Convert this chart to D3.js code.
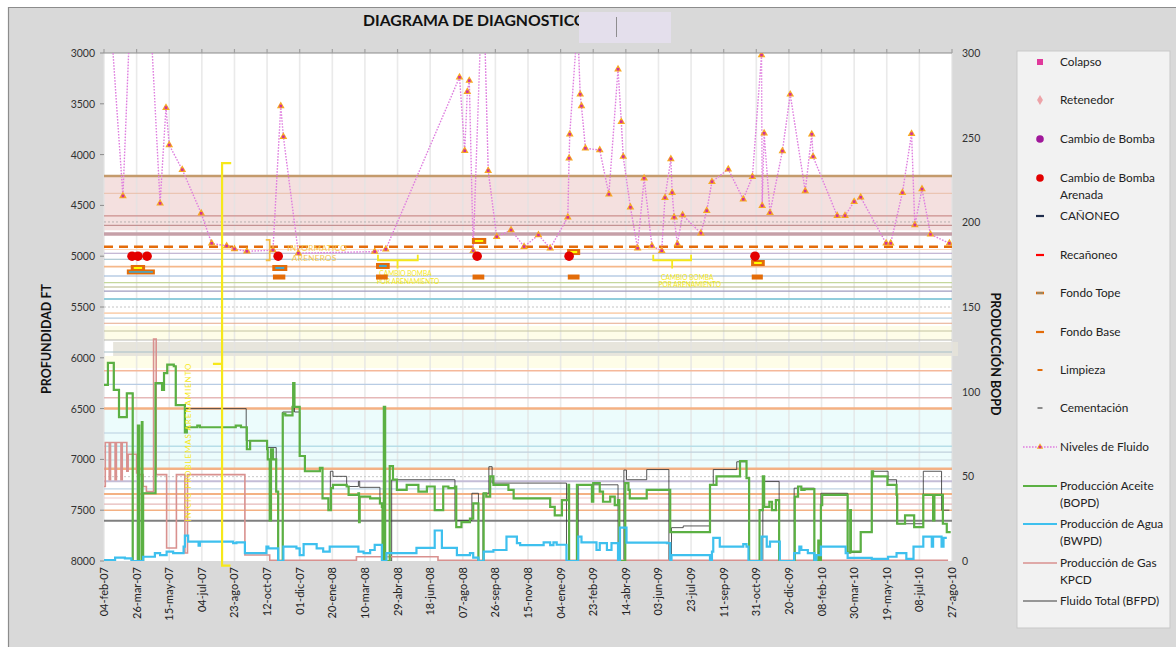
<!DOCTYPE html>
<html>
<head>
<meta charset="utf-8">
<script src="https://cdn.jsdelivr.net/npm/d3@7"></script>
<style>
  body { margin: 0; background: #ffffff; }
  svg { display: block; font-family: Lato, "Open Sans", "Liberation Sans", sans-serif; }
</style>
</head>
<body>
<svg id="chart" width="1176" height="647"></svg>
<script>
// ---------- data ----------
const START = new Date(2007, 1, 4);          // first day of the record
const SPAN_DAYS = 1300;
const tickStepDays = 50;
const tickLabels = ["04-feb-07","26-mar-07","15-may-07","04-jul-07","23-ago-07","12-oct-07","01-dic-07",
  "20-ene-08","10-mar-08","29-abr-08","18-jun-08","07-ago-08","26-sep-08","15-nov-08","04-ene-09",
  "23-feb-09","14-abr-09","03-jun-09","23-jul-09","11-sep-09","31-oct-09","20-dic-09","08-feb-10",
  "30-mar-10","19-may-10","08-jul-10","27-ago-10"];
const depthTicks = [3000, 3500, 4000, 4500, 5000, 5500, 6000, 6500, 7000, 7500, 8000];
const prodTicks = [0, 50, 100, 150, 200, 250, 300];

// fluid level surveys: [day since start, depth ft]
const fluidLevels = [[3,2000],[29,4407],[44,2000],[66,2000],[86,4480],[95,3538],[100,3906],[120,4149],
  [149,4578],[165,4873],[188,4900],[200,4929],[219,4952],[259,4940],[271,3522],[275,3824],[298,4971],
  [415,4955],[432,4932],[545,3239],[553,3962],[557,3381],[560,3272],[566,4946],[581,2130],[589,4158],
  [602,4808],[624,4742],[644,4906],[666,4791],[684,4922],[711,4617],[713,4036],[714,3800],[726,2700],
  [730,3407],[732,3522],[738,3938],[760,3955],[774,4391],[788,3160],[793,3676],[796,4020],[807,4519],
  [818,4922],[828,4233],[840,4900],[855,4946],[860,4424],[869,4043],[871,4375],[874,4617],[879,4880],
  [887,4594],[915,4774],[924,4552],[932,4267],[957,4145],[980,4440],[994,4217],[1008,3020],[1009,4503],
  [1012,3790],[1021,4572],[1040,3965],[1052,3407],[1075,4358],[1085,3800],[1087,4020],[1124,4601],
  [1136,4601],[1150,4463],[1160,4420],[1199,4873],[1206,4873],[1224,4375],[1238,3794],[1243,4693],
  [1254,4339],[1267,4785],[1296,4873]];

// daily production, stepwise: [day, rate]
const oilBopd = [[0,104],[6,117],[15,101],[23,85],[35,99],[44,0],[52,80],[54,0],[58,82],[59,0],[60,40],
  [79,105],[89,101],[92,111],[97,116],[107,115],[110,92],[124,76],[127,79],[143,80],[147,79],[202,80],
  [210,79],[219,66],[224,71],[250,66],[251,60],[254,24],[256,66],[259,60],[264,41],[267,0],[274,87],
  [278,86],[289,91],[290,105],[292,91],[300,62],[308,53],[331,55],[335,37],[344,30],[348,43],[351,45],
  [372,44],[375,39],[390,40],[391,23],[392,38],[408,37],[423,34],[426,32],[427,0],[429,91],[431,0],
  [438,56],[443,48],[449,42],[464,45],[482,41],[495,44],[507,30],[520,44],[528,43],[538,44],[540,20],
  [548,23],[561,25],[566,34],[574,0],[582,40],[586,38],[592,50],[597,45],[620,42],[628,37],[684,32],
  [691,27],[702,36],[712,45],[713,0],[725,45],[748,35],[750,46],[760,41],[765,35],[776,38],[783,33],
  [788,36],[790,0],[799,46],[804,42],[806,37],[832,42],[868,17],[929,45],[939,50],[975,59],[985,49],
  [989,0],[1005,30],[1010,50],[1012,32],[1020,35],[1024,30],[1030,36],[1035,0],[1059,38],[1064,44],
  [1069,42],[1074,42.5],[1089,0],[1095,12],[1097,0],[1099,33],[1101,39],[1140,5],[1144,30],[1145,5.5],
  [1160,17],[1177,53],[1179,50],[1201,45],[1215,39],[1216,22],[1228,27],[1242,20],[1256,39],[1271,24],
  [1273,39],[1286,22],[1292,17],[1298,17]];

const waterBwpd = [[0,0.5],[17,2],[32,1.5],[42,0],[60,2.5],[78,4.7],[86,3.5],[96,5.5],[106,4.7],[122,8.5],
  [124,15],[129,11.4],[145,9],[147,11.4],[198,10.5],[203,11],[216,4.7],[249,8.5],[252,7.5],[267,0],
  [275,8.5],[295,7.5],[300,3.5],[306,10],[326,7.5],[336,5.5],[346,8.5],[390,5.5],[398,4.7],[408,6.5],
  [415,9.5],[426,0],[433,4.7],[479,7.7],[507,18],[518,7.7],[541,3.5],[561,4.7],[566,2],[574,0],
  [582,5.5],[597,6.5],[617,14.4],[633,10.6],[638,9.4],[674,11],[684,9.4],[689,11],[694,9.6],[709,0],
  [727,14.4],[732,11],[755,6.5],[760,10.6],[771,6.5],[778,10.6],[788,0],[791,19.7],[801,10.8],
  [863,10.6],[868,0],[870,3.5],[929,0],[932,5.5],[934,13.6],[944,8.5],[980,10],[985,8.5],[988,0],
  [1008,14.4],[1016,8.5],[1021,11.4],[1036,0],[1058,4.7],[1066,8.5],[1069,6.5],[1079,4.7],[1089,0],
  [1092,3.5],[1099,8.5],[1137,4.7],[1140,1.8],[1177,1.2],[1202,2.5],[1215,4.7],[1230,1.2],[1241,8.5],
  [1256,14.4],[1269,8.5],[1271,14.4],[1284,8.5],[1287,13.6],[1292,13.6]];

const gasKpcd = [[0,44],[2,70],[8,48],[10,70],[17,48],[19,70],[26,48],[28,70],[35,53],[37,63],[50,52],
  [53,51],[60,44],[65,41],[76,131],[80,51],[96,7.7],[111,51],[124,4.7],[128,51],[216,3.5],[254,0.4],
  [387,2.5],[512,0.4],[1294,0.4]];

const totalBfpd = [[0,104],[6,117],[15,101],[23,85],[35,99],[44,0],[52,80],[54,0],[58,82],[59,0],[60,40],
  [79,105],[92,111],[97,116],[107,115],[110,92],[124,90],[218,71],[250,67],[264,41],[267,0],[274,88],
  [290,105],[292,88],[300,62],[308,53],[331,55],[335,37],[344,30],[347,53],[351,50],[372,44],[390,47],
  [392,43.5],[423,34],[427,0],[429,91],[431,0],[441,48],[538,24],[564,40],[574,0],[581,40],[590,55.7],
  [595,46],[709,0],[727,45],[788,0],[797,53.7],[801,48],[832,54],[866,0],[870,19.7],[888,20.7],[929,45],
  [934,54],[970,58.6],[985,49],[989,0],[1010,47],[1035,0],[1058,43],[1064,44],[1069,43],[1089,0],
  [1099,40],[1140,5],[1160,17],[1177,53],[1202,48],[1215,22],[1256,53],[1284,30],[1296,30]];

// well events
const sandPumpChanges = [43, 52, 66, 267, 572, 713, 998];      // Cambio de Bomba Arenada, at 5000 ft
const sandPumpDepth = 5000;
const topStart = [41, 258, 417, 564, 710, 992];
const topEnd   = [63, 281, 438, 586, 730, 1013];
const topDepth = [5116, 5116, 5096, 4850, 4959, 5067];
const topKind  = ["limpieza", "fondo", "fondo", "limpieza", "limpieza", "limpieza"];
const baseStart = [35, 259, 417, 565, 711, 993];
const baseEnd   = [78, 278, 435, 583, 729, 1010];
const baseDepth = [5155, 5205, 5205, 5205, 5205, 5205];

// formation bands and reference depths
const bandTop    = [4210, 5687, 5982, 6500];
const bandBottom = [4745, 5825, 6100, 7095];
const wideBand = [5844, 5982];
const refDepths = [4210, 4381, 4604, 4663, 4696, 4781, 4906, 4934, 4971, 5030, 5103, 5195, 5261, 5303,
  5343, 5421, 5500, 5560, 5610, 5660, 5736, 5825, 5943, 6127, 6261, 6393, 6500, 6740, 6870, 6929, 7006,
  7091, 7170, 7215, 7291, 7341, 7380, 7440, 7500, 7603];

// ---------- styles ----------
const bandFill = ["#f4e0df", "#fefde8", "#fefde8", "#ecfcfc"];
const refStyle = [
  ["#c49a6c",2.5],["#e9bfa8",1],["#cc8f8d",1.2],["#b8b0b0",1,"2 2"],["#c49292",1.2],["#c6a0a8",3.5],
  ["#e46c0a",2.5,"9 6"],["#fbd9c0",1],["#b3a2c7",1.2],["#9bbcc9",1.2],["#f5b88a",1.6],["#95b3d7",1.2],
  ["#c4d79b",1.2],["#b5b586",1.2],["#a09cbf",1.2],["#92cddc",2],["#c4c4c4",1,"2 2"],["#fbd4b4",1.6],
  ["#b7cee0",1.2],["#e6a88a",1.2],["#c4c4a0",1.2],["#b8b8b0",1.2],["#a8c0c8",1.2],["#f5b89a",1.6],
  ["#b8cce4",1.2],["#e6b8b7",1.6],["#f4b183",2.5],["#b7cee0",1.2],["#b7dee8",1.6],["#c0d0dc",1.2],
  ["#c8d8e0",1.2],["#f4b183",2.5],["#c8c8c8",1,"2 2"],["#c4bdd7",2],["#c0d4e4",1.2],["#f4b183",2],
  ["#f2c8c8",1.2],["#e6b9b8",1.2],["#f4b183",1.6],["#7f7f7f",2]];

// ---------- layout ----------
const svg = d3.select("#chart");
const M = { left: 104, right: 952, top: 53, bottom: 561 };
const day = d => d3.timeDay.offset(START, d);

const x = d3.scaleTime().domain([START, day(SPAN_DAYS)]).range([M.left, M.right]);
const yDepth = d3.scaleLinear().domain([3000, 8000]).range([M.top, M.bottom]);
const yProd = d3.scaleLinear().domain([0, 300]).range([M.bottom, M.top]);
const tickDates = tickLabels.map((_, i) => day(i * tickStepDays));

// frame
svg.append("rect").attr("x", 8).attr("y", 7).attr("width", 1168).attr("height", 640).attr("fill", "#d9d9d9");
svg.append("path").attr("d", "M8.5,647V7.5H1176").attr("fill", "none").attr("stroke", "#8c8c8c").attr("stroke-width", 1.2);

// plot area
svg.append("rect").attr("x", M.left).attr("y", M.top).attr("width", M.right - M.left)
  .attr("height", M.bottom - M.top).attr("fill", "#ffffff");

svg.append("defs").append("clipPath").attr("id", "plotClip").append("rect")
  .attr("x", M.left).attr("y", M.top).attr("width", M.right - M.left).attr("height", M.bottom - M.top);

const bands = svg.append("g");
bandTop.forEach((t, i) => {
  bands.append("rect").attr("x", M.left).attr("width", M.right - M.left)
    .attr("y", yDepth(t)).attr("height", yDepth(bandBottom[i]) - yDepth(t)).attr("fill", bandFill[i]);
});
bands.append("rect").attr("x", x(day(14))).attr("width", 958 - x(day(14)))
  .attr("y", yDepth(wideBand[0])).attr("height", yDepth(wideBand[1]) - yDepth(wideBand[0]))
  .attr("fill", "#e4e2d8").attr("opacity", 0.9);

// vertical grid
svg.append("g").selectAll("line").data(tickDates).join("line")
  .attr("x1", d => x(d)).attr("x2", d => x(d)).attr("y1", M.top).attr("y2", M.bottom)
  .attr("stroke", "#e3e3e3").attr("stroke-width", 1.6).attr("opacity", 0.75);

// reference depth lines
svg.append("g").selectAll("line").data(refDepths).join("line")
  .attr("x1", M.left).attr("x2", M.right)
  .attr("y1", d => yDepth(d)).attr("y2", d => yDepth(d))
  .attr("stroke", (d, i) => refStyle[i][0]).attr("stroke-width", (d, i) => refStyle[i][1])
  .attr("stroke-dasharray", (d, i) => refStyle[i][2] || null);

// top axis line with ticks
svg.append("line").attr("x1", M.left).attr("x2", M.right).attr("y1", M.top).attr("y2", M.top)
  .attr("stroke", "#8c8c8c").attr("stroke-width", 1.2);
svg.append("g").selectAll("line").data(tickDates).join("line")
  .attr("x1", d => x(d)).attr("x2", d => x(d)).attr("y1", M.top - 4).attr("y2", M.top)
  .attr("stroke", "#a0a0a0").attr("stroke-width", 1.2);

// production series
const plot = svg.append("g").attr("clip-path", "url(#plotClip)");
const stepLine = d3.line().curve(d3.curveStepAfter).x(d => x(day(d[0]))).y(d => yProd(d[1]));
plot.append("path").datum(totalBfpd).attr("d", stepLine).attr("fill", "none")
  .attr("stroke", "#3a3a3a").attr("stroke-width", 1).attr("opacity", 0.85);
plot.append("path").datum(gasKpcd).attr("d", stepLine).attr("fill", "none")
  .attr("stroke", "#d9918f").attr("stroke-width", 1.6);
plot.append("path").datum(oilBopd).attr("d", stepLine).attr("fill", "none")
  .attr("stroke", "#5bb043").attr("stroke-width", 2.2);
plot.append("path").datum(waterBwpd).attr("d", stepLine).attr("fill", "none")
  .attr("stroke", "#3ec0ee").attr("stroke-width", 2.2);

// annotations
const ann = svg.append("g");
const yellow = "#f6e81a";
ann.append("path")
  .attr("d", `M${x(day(195))},${yDepth(4083)}H${x(day(181))}V${yDepth(8045)}H${x(day(194))}` +
             `M${x(day(181))},${yDepth(6060)}H${x(day(167))}`)
  .attr("fill", "none").attr("stroke", yellow).attr("stroke-width", 2.2);
ann.append("text").attr("transform", `translate(${x(day(134))},${yDepth(6830)}) rotate(-90)`)
  .attr("text-anchor", "middle").attr("font-size", 8).attr("fill", yellow).attr("letter-spacing", 0.9)
  .text("INICIO PROBLEMAS ARENAMIENTO");

// bracket near the first sand report
ann.append("path")
  .attr("d", `M${x(day(248))},${yDepth(4840)}H${x(day(254))}V${yDepth(5040)}H${x(day(248))}`)
  .attr("fill", "none").attr("stroke", "#f5bd45").attr("stroke-width", 1.8);
ann.append("text").attr("x", x(day(281))).attr("y", yDepth(4945)).attr("font-size", 8.2)
  .attr("fill", "#f7c64f").attr("letter-spacing", 0.3).text("INFORMATICO");
ann.append("text").attr("x", x(day(288))).attr("y", yDepth(5050)).attr("font-size", 8.2)
  .attr("fill", "#f7c64f").attr("letter-spacing", 0.3).text("ARENEROS");

// brackets for pump changes due to sand
[[420, 481], [842, 900]].forEach(([a, b]) => {
  const m = (a + b) / 2;
  ann.append("path")
    .attr("d", `M${x(day(a))},${yDepth(4985)}V${yDepth(5040)}H${x(day(b))}V${yDepth(4985)}` +
               `M${x(day(m))},${yDepth(5040)}V${yDepth(5120)}`)
    .attr("fill", "none").attr("stroke", yellow).attr("stroke-width", 1.8);
});
[[420, 5190, 5275], [852, 5230, 5305]].forEach(([a, d1, d2]) => {
  ann.append("text").attr("x", x(day(a + 2))).attr("y", yDepth(d1)).attr("font-size", 6.6)
    .attr("fill", yellow).text("CAMBIO BOMBA");
  ann.append("text").attr("x", x(day(a - 2))).attr("y", yDepth(d2)).attr("font-size", 6.6)
    .attr("fill", yellow).text("POR ARENAMIENTO");
});

// fluid levels
const fl = svg.append("g").attr("clip-path", "url(#plotClip)");
const levelLine = d3.line().x(d => x(day(d[0]))).y(d => yDepth(d[1]));
fl.append("path").datum(fluidLevels).attr("d", levelLine).attr("fill", "none")
  .attr("stroke", "#df7fdf").attr("stroke-width", 1.4).attr("stroke-dasharray", "1.6 1.4");
const tri = d3.symbol(d3.symbolTriangle, 26)();
const marks = fl.selectAll("g.lvl").data(fluidLevels).join("g")
  .attr("transform", d => `translate(${x(day(d[0]))},${yDepth(d[1])})`);
marks.append("path").attr("d", tri).attr("fill", "#f7a823");
marks.append("rect").attr("x", -1.3).attr("y", -1.3).attr("width", 2.6).attr("height", 2.6).attr("fill", "#d0309a");

// fondo tope / base bars
const ev = svg.append("g");
topStart.forEach((s, i) => {
  const x0 = x(day(s)), x1 = x(day(topEnd[i])), yy = yDepth(topDepth[i]);
  ev.append("rect").attr("x", x0).attr("y", yy - 3).attr("width", x1 - x0).attr("height", 6).attr("fill", "#e36c09");
  ev.append("rect").attr("x", x0 + 3).attr("y", yy - 1).attr("width", x1 - x0 - 6).attr("height", 2)
    .attr("fill", topKind[i] === "limpieza" ? "#ffff00" : "#41a8d0");
});
baseStart.forEach((s, i) => {
  const x0 = x(day(s)), x1 = x(day(baseEnd[i])), yy = yDepth(baseDepth[i]);
  ev.append("rect").attr("x", x0).attr("y", yy - 2.5).attr("width", x1 - x0).attr("height", 5).attr("fill", "#e36c09");
  if (i === 0) {
    ev.append("rect").attr("x", x0 + 2).attr("y", yy - 0.8).attr("width", x1 - x0 - 4).attr("height", 1.6).attr("fill", "#41a8d0");
  }
});
ev.selectAll("circle").data(sandPumpChanges).join("circle")
  .attr("cx", d => x(day(d))).attr("cy", yDepth(sandPumpDepth)).attr("r", 4.8).attr("fill", "#e30000");

// axes labels
const axisText = "#333333";
svg.append("g").selectAll("text").data(depthTicks).join("text")
  .attr("x", 95).attr("y", d => yDepth(d) + 4).attr("text-anchor", "end")
  .attr("font-size", 10.5).attr("fill", axisText).text(d => d);
svg.append("g").selectAll("line").data(depthTicks).join("line")
  .attr("x1", 100).attr("x2", M.left).attr("y1", d => yDepth(d)).attr("y2", d => yDepth(d))
  .attr("stroke", "#8c8c8c");
svg.append("g").selectAll("text").data(prodTicks).join("text")
  .attr("x", 962).attr("y", d => yProd(d) + 4).attr("text-anchor", "start")
  .attr("font-size", 10.5).attr("fill", axisText).text(d => d);
svg.append("g").selectAll("text").data(tickDates).join("text")
  .attr("transform", d => `translate(${x(d) + 4},567) rotate(-90)`).attr("text-anchor", "end")
  .attr("font-size", 11).attr("fill", "#222").text((d, i) => tickLabels[i]);

svg.append("text").attr("transform", "translate(51,339) rotate(-90)").attr("text-anchor", "middle")
  .attr("font-size", 12.5).attr("font-weight", 700).attr("fill", "#111").text("PROFUNDIDAD FT");
svg.append("text").attr("transform", "translate(991,354) rotate(90)").attr("text-anchor", "middle")
  .attr("font-size", 12.5).attr("font-weight", 700).attr("fill", "#111").text("PRODUCCIÓN BOPD");

// title
svg.append("text").attr("x", 363).attr("y", 26).attr("font-size", 15.8).attr("font-weight", 700)
  .attr("fill", "#111").text("DIAGRAMA DE DIAGNOSTICO");
svg.append("rect").attr("x", 579).attr("y", 12).attr("width", 92).attr("height", 31).attr("fill", "#e4dfec");
svg.append("line").attr("x1", 616.5).attr("x2", 616.5).attr("y1", 17).attr("y2", 37).attr("stroke", "#777").attr("stroke-width", 0.8);

// legend
const lg = svg.append("g");
lg.append("rect").attr("x", 1017).attr("y", 51).attr("width", 153).attr("height", 577)
  .attr("fill", "#f2f2f2").attr("stroke", "#c9c9c9");
const legendItems = [
  { label: ["Colapso"], y: 62, kind: "square", color: "#e0399b" },
  { label: ["Retenedor"], y: 100, kind: "diamond", color: "#eda3a8" },
  { label: ["Cambio de Bomba"], y: 139, kind: "dot", color: "#a0189a" },
  { label: ["Cambio de Bomba", "Arenada"], y: 178, kind: "dot", color: "#e30000" },
  { label: ["CAÑONEO"], y: 216, kind: "dash", color: "#1f2d4d" },
  { label: ["Recañoneo"], y: 255, kind: "dash", color: "#ff0000" },
  { label: ["Fondo Tope"], y: 293, kind: "dash2", color: "#e36c09" },
  { label: ["Fondo Base"], y: 332, kind: "dash", color: "#e36c09" },
  { label: ["Limpieza"], y: 370, kind: "short", color: "#e36c09" },
  { label: ["Cementación"], y: 408, kind: "short", color: "#8c8c8c" },
  { label: ["Niveles de Fluido"], y: 447, kind: "level", color: "#df7fdf" },
  { label: ["Producción Aceite", "(BOPD)"], y: 486, kind: "line", color: "#5bb043", w: 2.2 },
  { label: ["Producción de Agua", "(BWPD)"], y: 524, kind: "line", color: "#3ec0ee", w: 1.8 },
  { label: ["Producción de Gas", "KPCD"], y: 563, kind: "line", color: "#d9918f", w: 1.4 },
  { label: ["Fluido Total (BFPD)"], y: 601, kind: "line", color: "#3a3a3a", w: 1 }
];
legendItems.forEach(it => {
  const g = lg.append("g");
  const cx = 1040;
  if (it.kind === "square") g.append("rect").attr("x", cx - 3).attr("y", it.y - 3).attr("width", 6).attr("height", 6).attr("fill", it.color);
  if (it.kind === "diamond") g.append("path").attr("d", d3.symbol(d3.symbolDiamond, 30)()).attr("transform", `translate(${cx},${it.y})`).attr("fill", it.color);
  if (it.kind === "dot") g.append("circle").attr("cx", cx).attr("cy", it.y).attr("r", 3.8).attr("fill", it.color);
  if (it.kind === "dash") g.append("line").attr("x1", cx - 4).attr("x2", cx + 4).attr("y1", it.y).attr("y2", it.y).attr("stroke", it.color).attr("stroke-width", 2.2);
  if (it.kind === "dash2") {
    g.append("line").attr("x1", cx - 4).attr("x2", cx + 4).attr("y1", it.y).attr("y2", it.y).attr("stroke", it.color).attr("stroke-width", 2.6);
    g.append("line").attr("x1", cx - 3).attr("x2", cx + 3).attr("y1", it.y).attr("y2", it.y).attr("stroke", "#41a8d0").attr("stroke-width", 0.9);
  }
  if (it.kind === "short") g.append("line").attr("x1", cx - 2.5).attr("x2", cx + 2.5).attr("y1", it.y).attr("y2", it.y).attr("stroke", it.color).attr("stroke-width", 2);
  if (it.kind === "level") {
    g.append("line").attr("x1", 1023).attr("x2", 1057).attr("y1", it.y).attr("y2", it.y).attr("stroke", it.color).attr("stroke-width", 1.4).attr("stroke-dasharray", "1.6 1.4");
    g.append("path").attr("d", d3.symbol(d3.symbolTriangle, 18)()).attr("transform", `translate(${cx},${it.y})`).attr("fill", "#f7a823");
    g.append("rect").attr("x", cx - 1.2).attr("y", it.y - 1.2).attr("width", 2.4).attr("height", 2.4).attr("fill", "#d0309a");
  }
  if (it.kind === "line") g.append("line").attr("x1", 1023).attr("x2", 1057).attr("y1", it.y).attr("y2", it.y).attr("stroke", it.color).attr("stroke-width", it.w);
  it.label.forEach((t, j) => {
    g.append("text").attr("x", 1060).attr("y", it.y + 4 + j * 16.5).attr("font-size", 11.8).attr("fill", "#222").text(t);
  });
});
</script>
</body>
</html>
